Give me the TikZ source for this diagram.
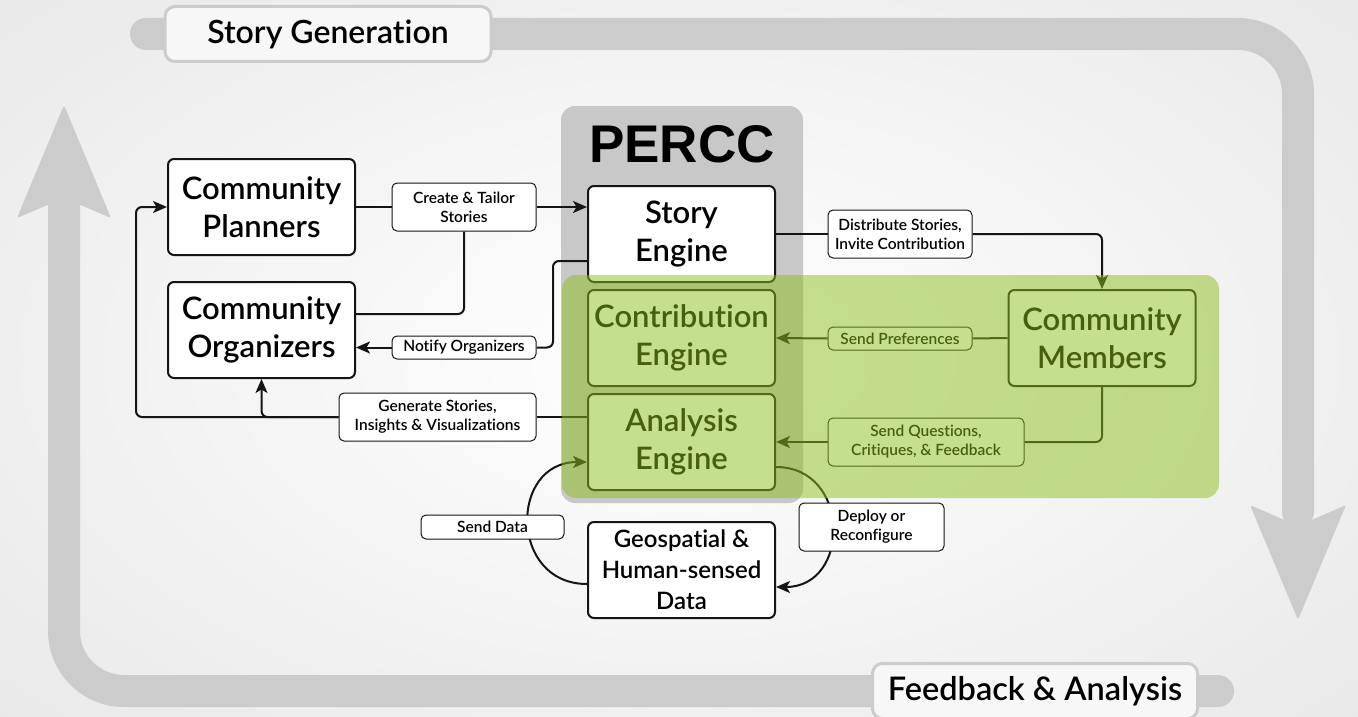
\documentclass[tikz,border=0pt]{standalone}
\usepackage{fontspec}
\IfFontExistsTF{Lato Semibold}{\setmainfont{Lato Semibold}[Ligatures=NoCommon]}{\setmainfont{Lato}[UprightFont=* Bold,Ligatures=NoCommon]}
\newfontfamily\perccfont{Liberation Sans}
\usetikzlibrary{arrows.meta,calc}
\pgfdeclarelayer{back}
\pgfdeclarelayer{conn}
\pgfdeclarelayer{front}
\pgfsetlayers{back,conn,main,front}
\definecolor{band}{HTML}{CCCCCC}
\definecolor{perccgray}{HTML}{C8C8C8}
\definecolor{ovgreen}{RGB}{139,192,31}
\definecolor{edge}{HTML}{151515}
\begin{document}
\begin{tikzpicture}[x=1pt,y=-1pt,
  box/.style={draw=edge, line width=2pt, rounded corners=6pt, fill=white,
    minimum width=187pt, minimum height=96pt, align=center, inner sep=0pt,
    font=\fontsize{31}{38}\selectfont, text=black},
  geobox/.style={box, font=\fontsize{24}{31}\selectfont},
  lab/.style={draw=edge, line width=1pt, rounded corners=5pt, fill=white,
    align=center, inner sep=0pt, font=\fontsize{15.5}{19}\selectfont},
  phase/.style={draw=band, line width=3pt, rounded corners=10pt, fill=white!97!black,
    inner sep=0pt, text=black},
  conn/.style={draw=edge, line width=2pt, rounded corners=6pt},
  arr/.style={conn, -{Stealth[length=14pt,width=12pt,inset=3.5pt]}},
  bandline/.style={draw=band, line width=32pt, line cap=round, rounded corners=60pt}
]
\useasboundingbox (0,0) rectangle (1358,717);
\begin{pgfonlayer}{back}
  \shade[inner color=white, outer color=black!9] (-300,-200) rectangle (1658,917);
  \path[bandline] (146,34) -- (1298,34) -- (1298,512);
  \fill[band, rounded corners=3pt] (1298,620) -- (1250,505) -- (1298,526) -- (1346,505) -- cycle;
  \path[bandline] (64,205) -- (64,691) -- (1218,691);
  \fill[band, rounded corners=3pt] (64,105) -- (111,218) -- (64,198) -- (17,218) -- cycle;
  \fill[perccgray, rounded corners=14pt] (561,106) rectangle (803,503);
\end{pgfonlayer}

% phase labels
\node[phase, minimum width=326pt, minimum height=55pt, font=\fontsize{32}{32}\selectfont] (sg) at (328,34) {Story Generation};
\node[phase, minimum width=325pt, minimum height=55pt, font=\fontsize{32.5}{32.5}\selectfont] (fa) at (1035,691) {Feedback \& Analysis};

% PERCC title
\node[font=\perccfont\bfseries\fontsize{53}{53}\selectfont, inner sep=0pt] (percc) at (682,144) {PERCC};

% main boxes
\node[box] (cp) at (261.5,207) {Community\\Planners};
\node[box] (co) at (261.5,330) {Community\\Organizers};
\node[box] (se) at (681.5,234) {Story\\Engine};
\node[box] (ce) at (681.5,338) {Contribution\\Engine};
\node[box] (ae) at (681.5,442) {Analysis\\Engine};
\node[box] (cm) at (1102,338) {Community\\Members};
\node[geobox] (geo) at (681.5,570) {Geospatial \&\\Human-sensed\\Data};

% connector labels
\node[lab, minimum width=144pt, minimum height=48pt] (lct) at (464,207) {Create \& Tailor\\Stories};
\node[lab, minimum width=144pt, minimum height=48pt] (ldist) at (900,234) {Distribute Stories,\\Invite Contribution};
\node[lab, minimum width=144pt, minimum height=23pt] (lnot) at (464,347.5) {Notify Organizers};
\node[lab, minimum width=197pt, minimum height=48pt] (lgen) at (437.5,417) {Generate Stories,\\Insights \& Visualizations};
\node[lab, minimum width=144pt, minimum height=23pt] (lpref) at (900,338.5) {Send Preferences};
\node[lab, minimum width=196pt, minimum height=48pt] (lq) at (926,442) {Send Questions,\\Critiques, \& Feedback};
\node[lab, minimum width=143pt, minimum height=24pt] (lsd) at (492.5,527) {Send Data};
\node[lab, minimum width=145pt, minimum height=48pt] (ldep) at (871.5,527) {Deploy or\\Reconfigure};

% connectors
\begin{pgfonlayer}{conn}
  \draw[conn] (cp.east) -- (lct.west);
  \draw[arr] (lct.east) -- (se.west |- lct.east);
  \draw[conn] (co.east |- 0,314) -| (lct.south);
  \draw[conn] (se.west |- 0,261) -- (553,261) |- (lnot.east);
  \draw[arr] (lnot.west) -- (co.east |- lnot.west);
  \draw[conn] (ae.west |- 0,417) -- (lgen.east);
  \draw[arr] (lgen.west) -- (136,417) |- (cp.west);
  \draw[arr] (lgen.west) -- (co.south |- lgen.west) -- (co.south);
  \draw[conn] (se.east) -- (ldist.west);
  \draw[arr] (ldist.east) -| (cm.north);
  \draw[conn] (cm.west) -- (lpref.east);
  \draw[arr] (lpref.west) -- (ce.east);
  \draw[conn] (cm.south) |- (lq.east);
  \draw[arr] (lq.west) -- (ae.east);
  \draw[arr, rounded corners=0pt] (geo.west |- 0,584) .. controls (509,584) and (509,462) .. (ae.west |- 0,462);
  \draw[arr, rounded corners=0pt] (ae.east |- 0,467) .. controls (851,467) and (851,587) .. (geo.east |- 0,587);
\end{pgfonlayer}

% translucent green region
\begin{pgfonlayer}{front}
  \fill[ovgreen, opacity=0.5, rounded corners=14pt] (562,275) rectangle (1219,498);
\end{pgfonlayer}
\end{tikzpicture}
\end{document}
